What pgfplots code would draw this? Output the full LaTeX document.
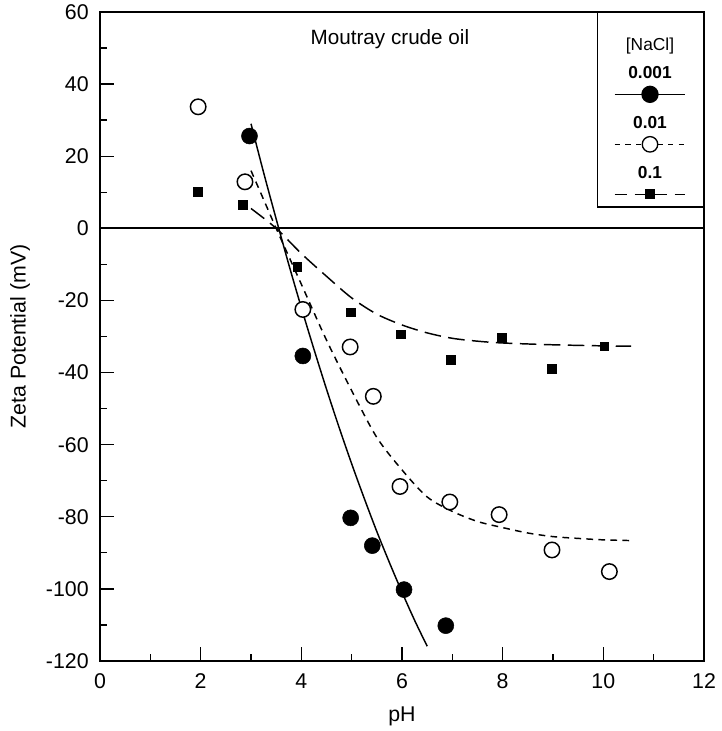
\documentclass[border=0pt]{standalone}
\usepackage{fontspec}
\setmainfont{Liberation Sans}
\usepackage{pgfplots}
\pgfplotsset{compat=1.18}
\usetikzlibrary{calc}

\newcommand{\bigfont}{\fontsize{16}{19}\selectfont}
\newcommand{\legfont}{\fontsize{13}{15}\selectfont}

\tikzset{legtext/.style={draw=none, fill=none, anchor=center, inner sep=0pt, font=\legfont}}

\begin{document}
\begin{tikzpicture}
\begin{axis}[
  scale only axis,
  width=453pt, height=486.75pt,
  xmin=0, xmax=12, ymin=-120, ymax=60,
  xtick={0,2,...,12}, ytick={-120,-100,...,60},
  minor x tick num=1, minor y tick num=1,
  tick pos=left,
  tick align=inside,
  major tick length=10.5pt, minor tick length=5.5pt,
  axis line style={line width=1.4pt},
  tick style={black, line width=1pt},
  tick label style={font=\bigfont},
  yticklabel style={xshift=-5pt},
  xticklabel style={yshift=-6pt},
  label style={font=\bigfont},
  xlabel style={yshift=-7pt},
  ylabel style={yshift=5pt},
  /pgf/number format/assume math mode=true,
  xlabel={pH}, ylabel={Zeta Potential (mV)},
  clip=false,
  legend style={at={(rel axis cs:1,1)}, anchor=north east, draw=black,
    line width=1.2pt, fill=white, inner sep=0pt, outer sep=0pt,
    row sep=0pt, nodes={inner sep=0pt, outer sep=0pt}},
  legend cell align=left,
]
% legend rows: title, then label above each sample
\addlegendimage{legend image code/.code={
  \path[draw=none, fill=none] (0pt,0pt) rectangle (79pt,33pt);
  \node[legtext] at (39.5pt,8pt) {[NaCl]};}}
\addlegendentry{}
\addlegendimage{legend image code/.code={
  \path[draw=none, fill=none] (0pt,-9.5pt) rectangle (79pt,28pt);
  \node[legtext] at (39.5pt,16pt) {\bfseries 0.001};
  \draw[black, line width=1pt, mark=*, mark size=6pt, mark repeat=2, mark phase=2]
    plot coordinates {(13pt,0pt) (39.5pt,0pt) (66pt,0pt)};}}
\addlegendentry{}
\addlegendimage{legend image code/.code={
  \path[draw=none, fill=none] (0pt,-9.5pt) rectangle (79pt,28pt);
  \node[legtext] at (39.5pt,16pt) {\bfseries 0.01};
  \draw[black, line width=1pt, dash pattern=on 4pt off 4pt, mark=*, mark size=5.8pt,
    mark options={solid, fill=white}, mark repeat=2, mark phase=2]
    plot coordinates {(13pt,0pt) (39.5pt,0pt) (66pt,0pt)};}}
\addlegendentry{}
\addlegendimage{legend image code/.code={
  \path[draw=none, fill=none] (0pt,-9.5pt) rectangle (79pt,28pt);
  \node[legtext] at (39.5pt,16pt) {\bfseries 0.1};
  \draw[black, line width=1pt, dash pattern=on 9pt off 6pt, mark=square*, mark size=3.3pt,
    mark options={solid}, mark repeat=2, mark phase=2]
    plot coordinates {(13pt,0pt) (39.5pt,0pt) (66pt,0pt)};}}
\addlegendentry{}

% zero line
\addplot[black, line width=1.4pt, forget plot] coordinates {(0,0) (12,0)};

% fitted curves
\addplot[black, line width=1.1pt, smooth, forget plot] coordinates {
  (3.0,29) (3.25,15.5) (3.5,2.6) (3.75,-10) (4.0,-22) (4.25,-33.5) (4.5,-44.6)
  (4.75,-55.2) (5.0,-65.3) (5.25,-74.9) (5.5,-84.1) (5.75,-92.7) (6.0,-100.9)
  (6.25,-108.7) (6.5,-115.9)};
\addplot[black, line width=1.1pt, dash pattern=on 5pt off 4pt, smooth, forget plot] coordinates {
  (3.0,16) (3.25,8) (3.5,0) (4.0,-15.5) (4.5,-31) (5.0,-45) (5.5,-58) (6.0,-67)
  (6.5,-74.5) (7.0,-78.5) (7.5,-81.3) (8.0,-83) (8.5,-84.5) (9.0,-85.5)
  (9.5,-86) (10.0,-86.4) (10.55,-86.6)};
\addplot[black, line width=1.1pt, dash pattern=on 12.5pt off 5.5pt, smooth, forget plot] coordinates {
  (3.0,5.5) (3.5,0) (4.0,-7) (4.5,-13.3) (5.0,-19.3) (5.5,-23.8) (6.0,-26.8)
  (6.5,-29) (7.0,-30.5) (7.5,-31.3) (8.0,-31.8) (9.0,-32.3) (10.0,-32.6) (10.55,-32.7)};

% measured points
\addplot[only marks, black, mark=*, mark size=6pt, forget plot] coordinates {
  (2.97,25.6) (4.03,-35.4) (4.98,-80.3) (5.41,-88) (6.04,-100.2) (6.87,-110.2)};
\addplot[only marks, black, mark=*, mark size=5.8pt,
  mark options={fill=white, line width=1.1pt}, forget plot] coordinates {
  (1.95,33.7) (2.88,12.9) (4.03,-22.5) (4.97,-32.9) (5.43,-46.6) (5.96,-71.6)
  (6.95,-75.9) (7.93,-79.4) (8.98,-89.2) (10.12,-95.2)};
\addplot[only marks, black, mark=square*, mark size=3.3pt, forget plot] coordinates {
  (1.95,10.2) (2.84,6.5) (3.92,-10.7) (4.98,-23.3) (5.97,-29.4) (6.97,-36.4)
  (7.98,-30.4) (8.98,-38.9) (10.02,-32.7)};

\node[font=\fontsize{15.5}{18}\selectfont] at (axis cs:5.76,52.5) {Moutray crude oil};

% page frame in the reference's proportions
\path ($(rel axis cs:0,0)+(-75pt,-52.5pt)$) rectangle ($(rel axis cs:1,1)+(12.75pt,9pt)$);
\end{axis}
\end{tikzpicture}
\end{document}
